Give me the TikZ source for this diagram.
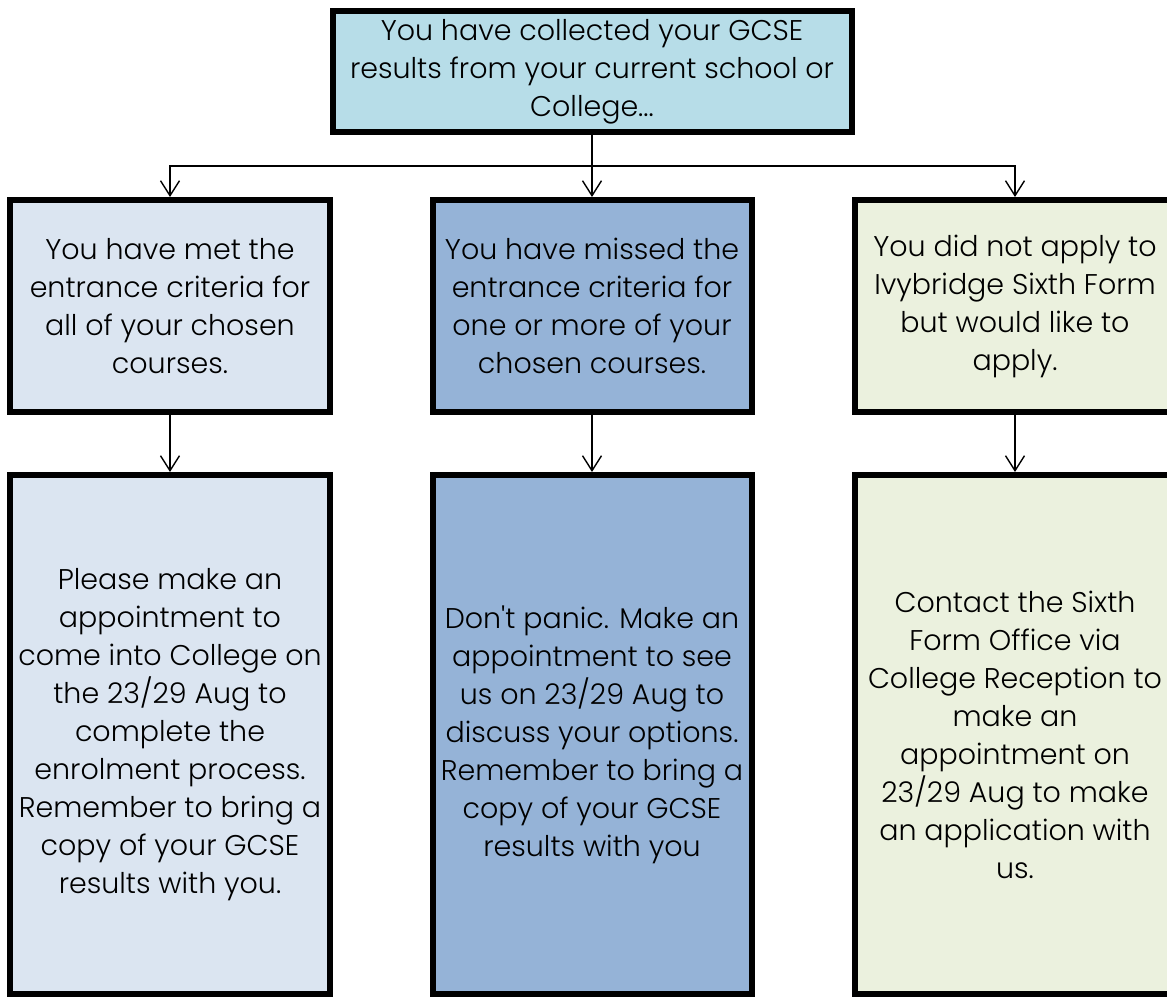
\documentclass[tikz,border=0pt]{standalone}
\usepackage{fontspec}
\setmainfont{Poppins Light}
\newfontfamily\plainq{Poppins Light}
\usetikzlibrary{arrows.meta}
\definecolor{topc}{HTML}{B7DDE8}
\definecolor{leftc}{HTML}{DBE5F1}
\definecolor{midc}{HTML}{95B3D7}
\definecolor{rightc}{HTML}{EBF1DE}
\tikzset{
  box/.style={draw=black, line width=6pt, align=center, inner sep=0pt,
    text=black, font=\fontsize{28.5}{38}\selectfont},
  arr/.style={line width=1.4pt, -{Straight Barb[length=15pt,width=19pt,line width=1.4pt]}},
}
\begin{document}
\begin{tikzpicture}[x=1pt,y=-1pt]
\useasboundingbox (0,0) rectangle (1167,998);
\clip (0,0) rectangle (1167,998);
\node[box, fill=topc, minimum width=519pt, minimum height=121pt] (top) at (592,71.5)
  {You have collected your GCSE\\results from your current school or\\College...};
\node[box, fill=leftc, minimum width=320pt, minimum height=212pt] (a1) at (170,306)
  {You have met the\\entrance criteria for\\all of your chosen\\courses.};
\node[box, fill=midc, minimum width=319pt, minimum height=212pt] (a2) at (592,306)
  {You have missed the\\entrance criteria for\\one or more of your\\chosen courses.};
\node[box, fill=rightc, minimum width=320pt, minimum height=212pt] (a3) at (1015,306)
  {You did not apply to\\Ivybridge Sixth Form\\but would like to\\apply.};
\node[box, fill=leftc, minimum width=320pt, minimum height=519pt] (b1) at (170,734.5)
  {Please make an\\appointment to\\come into College on\\the 23/29 Aug to\\complete the\\enrolment process.\\Remember to bring a\\copy of your GCSE\\results with you.};
\node[box, fill=midc, minimum width=319pt, minimum height=519pt] (b2) at (592,734.5)
  {Don{\plainq'}t panic. Make an\\appointment to see\\us on 23/29 Aug to\\discuss your options.\\Remember to bring a\\copy of your GCSE\\results with you};
\node[box, fill=rightc, minimum width=320pt, minimum height=519pt] (b3) at (1015,734.5)
  {Contact the Sixth\\Form Office via\\College Reception to\\make an\\appointment on\\23/29 Aug to make\\an application with\\us.};
\draw[arr] (top.south) -- ++(0,31) -| (a1.north);
\draw[arr] (top.south) -- (a2.north);
\draw[arr] (top.south) -- ++(0,31) -| (a3.north);
\draw[arr] (a1.south) -- (b1.north);
\draw[arr] (a2.south) -- (b2.north);
\draw[arr] (a3.south) -- (b3.north);
\end{tikzpicture}
\end{document}
